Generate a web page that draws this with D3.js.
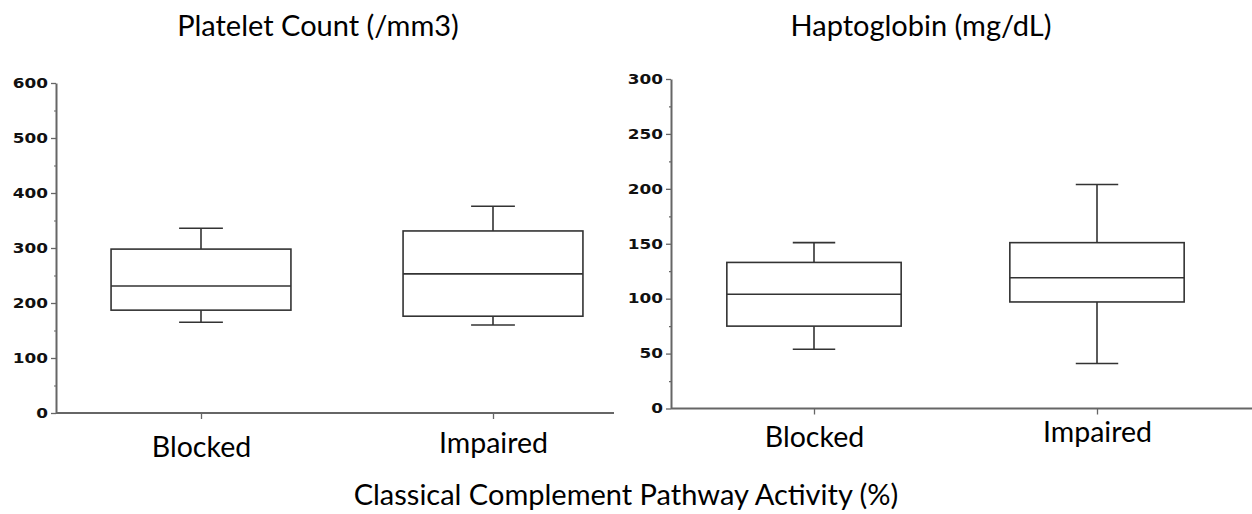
<!DOCTYPE html>
<html>
<head>
  <meta charset="utf-8">
  <style>
    body { margin: 0; background: #fff; }
    .title { font-family: Lato, "Open Sans", sans-serif; font-size: 29px; fill: #000; }
    .ytick text { font-family: "DejaVu Sans", sans-serif; font-weight: bold; font-size: 13.5px; fill: #111; }
    .axis path, .axis line { stroke: #666; }
    .box line, .box rect { stroke: #333; stroke-width: 1.6; fill: none; }
    .cat text { font-family: Lato, "Open Sans", sans-serif; font-size: 28.5px; fill: #000; }
  </style>
  <script src="https://d3js.org/d3.v7.min.js"></script>
</head>
<body>
<script>
  // categories shared by both panels
  var categories = ["Blocked", "Impaired"];

  // five-number summaries: [min, q1, median, q3, max]
  var plateletStats = [
    [165, 187, 231, 298, 336],
    [160, 176, 253, 331, 376]
  ];
  var haptoStats = [
    [54, 75, 104, 133, 151],
    [41, 97, 119, 151, 204]
  ];

  var plateletTicks = [0, 100, 200, 300, 400, 500, 600];
  var haptoTicks = [0, 50, 100, 150, 200, 250, 300];

  var W = 1252, H = 514;
  var svg = d3.select("body").append("svg")
    .attr("width", W)
    .attr("height", H);

  // panel layout
  var panels = [
    { title: "Platelet Count (/mm3)", titleX: 318, stats: plateletStats, ticks: plateletTicks,
      left: 56, right: 614, top: 83, bottom: 413, c0: 201, c1: 493, labelY: [457, 453] },
    { title: "Haptoglobin (mg/dL)", titleX: 921, stats: haptoStats, ticks: haptoTicks,
      left: 671, right: 1252, top: 79, bottom: 408.5, c0: 814, c1: 1097, labelY: [447, 442] }
  ];

  var XSCALE = 1.25; // tick digits in the original are wide

  panels.forEach(function(p) {
    var maxV = d3.max(p.ticks);
    var y = d3.scaleLinear().domain([0, maxV]).range([p.bottom, p.top]);
    var x = d3.scalePoint().domain(categories).range([p.c0, p.c1]);
    var step = p.c1 - p.c0;
    var boxW = step * 0.616, capW = step * 0.15;

    // title
    svg.append("text")
      .attr("class", "title")
      .attr("x", p.titleX)
      .attr("y", 36)
      .attr("text-anchor", "middle")
      .text(p.title);

    // minor ticks
    var minorStep = (p.ticks[1] - p.ticks[0]) / 2;
    svg.append("g")
      .attr("class", "axis")
      .attr("transform", "translate(" + p.left + ",0)")
      .call(d3.axisLeft(y).tickValues(d3.range(minorStep, maxV, minorStep * 2)).tickSize(2).tickFormat(""))
      .call(function(g) { g.select(".domain").remove(); g.selectAll("line").attr("stroke-width", 1.2); });

    // y axis
    var yAxis = svg.append("g")
      .attr("class", "axis ytick")
      .attr("transform", "translate(" + p.left + ",0)")
      .call(d3.axisLeft(y).tickValues(p.ticks).tickSizeInner(5).tickSizeOuter(0).tickPadding(3));
    yAxis.select(".domain").attr("stroke-width", 2);
    yAxis.selectAll("line").attr("stroke-width", 1.3);
    yAxis.selectAll("text")
      .attr("x", -8 / XSCALE)
      .attr("transform", "scale(" + XSCALE + ",1)");

    // x axis line
    svg.append("line")
      .attr("class", "axis")
      .attr("x1", p.left).attr("x2", p.right)
      .attr("y1", p.bottom).attr("y2", p.bottom)
      .attr("stroke", "#666")
      .attr("stroke-width", 2.2);

    // x ticks
    var xAxis = svg.append("g")
      .attr("class", "axis cat")
      .attr("transform", "translate(0," + p.bottom + ")")
      .call(d3.axisBottom(x).tickSizeInner(6).tickSizeOuter(0));
    xAxis.select(".domain").remove();
    xAxis.selectAll("line").attr("stroke-width", 1.3);
    xAxis.selectAll("text")
      .attr("dy", null)
      .attr("y", function(d, i) { return p.labelY[i] - p.bottom; });

    // boxes
    var box = svg.selectAll(null)
      .data(p.stats)
      .enter().append("g")
      .attr("class", "box")
      .attr("transform", function(d, i) { return "translate(" + x(categories[i]) + ",0)"; });

    box.append("line")
      .attr("x1", 0).attr("x2", 0)
      .attr("y1", function(d) { return y(d[4]); })
      .attr("y2", function(d) { return y(d[3]); });
    box.append("line")
      .attr("x1", 0).attr("x2", 0)
      .attr("y1", function(d) { return y(d[1]); })
      .attr("y2", function(d) { return y(d[0]); });
    box.append("line")
      .attr("x1", -capW / 2).attr("x2", capW / 2)
      .attr("y1", function(d) { return y(d[4]); })
      .attr("y2", function(d) { return y(d[4]); });
    box.append("line")
      .attr("x1", -capW / 2).attr("x2", capW / 2)
      .attr("y1", function(d) { return y(d[0]); })
      .attr("y2", function(d) { return y(d[0]); });
    box.append("rect")
      .attr("x", -boxW / 2)
      .attr("width", boxW)
      .attr("y", function(d) { return y(d[3]); })
      .attr("height", function(d) { return y(d[1]) - y(d[3]); });
    box.append("line")
      .attr("x1", -boxW / 2).attr("x2", boxW / 2)
      .attr("y1", function(d) { return y(d[2]); })
      .attr("y2", function(d) { return y(d[2]); });
  });

  svg.append("text")
    .attr("class", "title")
    .attr("x", 626)
    .attr("y", 505)
    .attr("text-anchor", "middle")
    .text("Classical Complement Pathway Activity (%)");
</script>
</body>
</html>
